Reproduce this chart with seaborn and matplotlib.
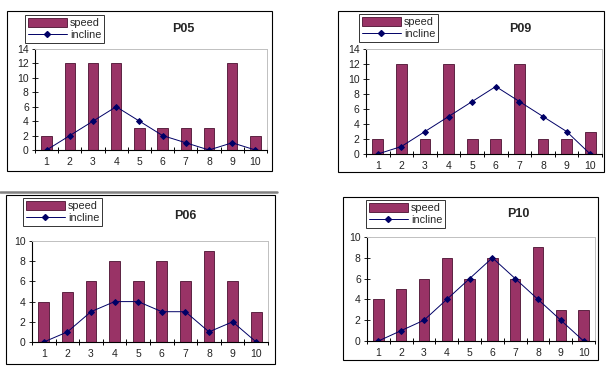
import numpy as np
import pandas as pd
import matplotlib
matplotlib.use("Agg")
import matplotlib.pyplot as plt
import seaborn as sns
from matplotlib.patches import Patch, Rectangle
from matplotlib.lines import Line2D

# Data
steps = [str(i) for i in range(1, 11)]
p05_speed = [2, 12, 12, 12, 3, 3, 3, 3, 12, 2]
p05_incline = [0, 2, 4, 6, 4, 2, 1, 0, 1, 0]
p09_speed = [2, 12, 2, 12, 2, 2, 12, 2, 2, 3]
p09_incline = [0, 1, 3, 5, 7, 9, 7, 5, 3, 0]
p06_speed = [4, 5, 6, 8, 6, 8, 6, 9, 6, 3]
p06_incline = [0, 1, 3, 4, 4, 3, 3, 1, 2, 0]
p10_speed = [4, 5, 6, 8, 6, 8, 6, 9, 3, 3]
p10_incline = [0, 1, 2, 4, 6, 8, 6, 4, 2, 0]

BAR = "#993366"
EDGE = "#4a1030"
LINE = "#000066"
W, H = 614, 371

sns.set_theme(style="white")
plt.rcParams['font.family'] = ['Liberation Sans', 'DejaVu Sans']

fig = plt.figure(figsize=(6.14, 3.71), dpi=100)
fig.patch.set_facecolor("white")


def box(l, t, r, b):
    return [l / W, 1 - b / H, (r - l) / W, (b - t) / H]


# name, speed, incline, ymax, frame, plot area, legend top-left, title centre (pixels)
panels = [
    ("P05", p05_speed, p05_incline, 14, (7, 11, 272, 171), (35, 49, 267, 150), (25, 15), (183, 29)),
    ("P09", p09_speed, p09_incline, 14, (338, 11, 604, 172), (366, 49, 602, 154), (359, 14), (520, 29)),
    ("P06", p06_speed, p06_incline, 10, (6, 195, 275, 364), (32, 241, 268, 342), (23, 198), (185, 216)),
    ("P10", p10_speed, p10_incline, 10, (343, 197, 598, 360), (367, 237, 595, 341), (366, 200), (518, 214)),
]

# grey separator above the lower-left panel
fig.add_artist(Line2D([0, 277 / W], [1 - 192 / H, 1 - 192 / H], color="#808080", lw=1.8,
                      transform=fig.transFigure))

for name, speed, incline, ymax, frame, plot, leg, title in panels:
    fl, ft, fr, fb = frame
    fig.add_artist(Rectangle((fl / W, 1 - fb / H), (fr - fl) / W, (fb - ft) / H,
                             transform=fig.transFigure, fill=False, edgecolor="black", lw=0.8))

    ax = fig.add_axes(box(*plot))
    df = pd.DataFrame({"step": steps, "speed": speed, "incline": incline})
    sns.barplot(data=df, x="step", y="speed", color=BAR, width=0.45, saturation=1,
                edgecolor=EDGE, linewidth=0.6, ax=ax)
    sns.lineplot(x=np.arange(len(steps)), y=df["incline"].values, color=LINE, marker="D",
                 markersize=3.0, markeredgecolor=LINE, lw=0.7, ax=ax)

    ax.set_xlim(-0.5, 9.5)
    ax.set_ylim(0, ymax)
    ax.set_yticks(range(0, ymax + 1, 2))
    ax.set_xticks(range(10))
    ax.set_xticklabels(steps)
    ax.set_xticks(np.arange(-0.5, 10, 1), minor=True)
    ax.tick_params(axis="x", which="major", length=0, labelsize=7.5, pad=5, colors="#222222")
    ax.tick_params(axis="x", which="minor", length=5, width=0.7, direction="inout", color="black",
                   bottom=True)
    ax.tick_params(axis="y", length=5, width=0.7, direction="inout", labelsize=7.5, pad=2,
                   colors="#222222", left=True)
    ax.set_xlabel("")
    ax.set_ylabel("")
    for s in ["left", "bottom"]:
        ax.spines[s].set_color("black")
        ax.spines[s].set_linewidth(0.8)
    for s in ["top", "right"]:
        ax.spines[s].set_color("#c0c0c0")
        ax.spines[s].set_linewidth(0.7)

    handles = [Patch(facecolor=BAR, edgecolor=EDGE, linewidth=0.6),
               Line2D([], [], color=LINE, marker="D", markersize=3.0, lw=0.7)]
    lg = fig.legend(handles, ["speed", "incline"], loc="upper left",
                    bbox_to_anchor=(leg[0] / W, 1 - leg[1] / H), fontsize=7.8, frameon=True,
                    fancybox=False, borderpad=0.25, labelspacing=0.2, handlelength=3.6,
                    handleheight=0.9, handletextpad=0.3, borderaxespad=0)
    lg.get_frame().set_edgecolor("black")
    lg.get_frame().set_linewidth(0.7)

    fig.text(title[0] / W, 1 - title[1] / H, name, ha="center", va="center",
             fontsize=9, fontweight="bold")

fig.savefig("out.png", dpi=100)
